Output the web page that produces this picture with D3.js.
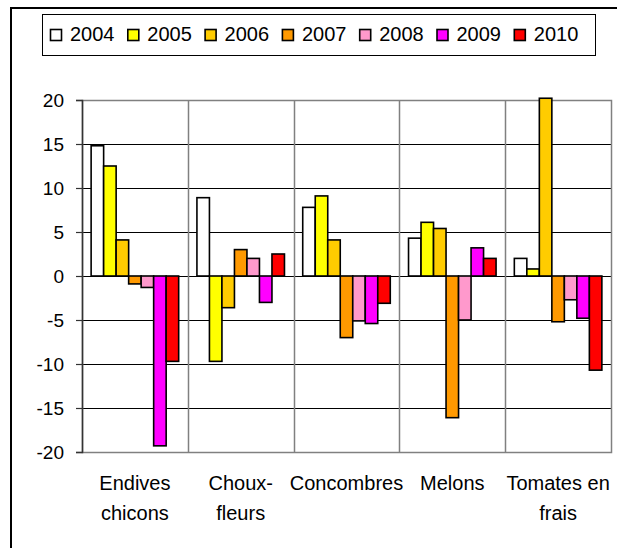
<!DOCTYPE html>
<html>
<head>
<meta charset="utf-8">
<script src="https://cdn.jsdelivr.net/npm/d3@7/dist/d3.min.js"></script>
<style>
  html, body { margin: 0; padding: 0; background: #fff; }
  svg { display: block; font-family: "Liberation Sans", Arial, sans-serif; }
</style>
</head>
<body>
<svg id="chart" width="617" height="548"></svg>
<script>
// Categories (each label split into its display lines)
const categories = ["Endives chicons", "Choux-fleurs", "Concombres", "Melons", "Tomates en frais"];
const categoryLines = [["Endives", "chicons"], ["Choux-", "fleurs"], ["Concombres"], ["Melons"], ["Tomates en", "frais"]];

// Series: one value per category, per year
const years = ["2004", "2005", "2006", "2007", "2008", "2009", "2010"];
const v2004 = [14.8, 8.9, 7.8, 4.3, 2.0];
const v2005 = [12.5, -9.7, 9.1, 6.1, 0.8];
const v2006 = [4.1, -3.6, 4.1, 5.4, 20.2];
const v2007 = [-0.9, 3.0, -7.0, -16.1, -5.2];
const v2008 = [-1.3, 2.0, -5.1, -5.0, -2.7];
const v2009 = [-19.3, -3.0, -5.4, 3.2, -4.8];
const v2010 = [-9.7, 2.5, -3.1, 2.0, -10.7];
const seriesValues = [v2004, v2005, v2006, v2007, v2008, v2009, v2010];
const colors = ["#FFFFFF", "#FFFF00", "#FFCC00", "#FF9900", "#FF99CC", "#FF00FF", "#FF0000"];

// Value axis ticks
const yTicks = [-20, -15, -10, -5, 0, 5, 10, 15, 20];

const svg = d3.select("#chart");

// Outer chart frame (runs off the right and bottom edges)
svg.append("rect")
  .attr("x", 11).attr("y", 8)
  .attr("width", 640).attr("height", 580)
  .attr("fill", "none").attr("stroke", "#000").attr("stroke-width", 2);

const plot = { left: 82, right: 611, top: 100, bottom: 452 };

const x0 = d3.scaleBand().domain(categories).range([plot.left, plot.right]).padding(0);
const x1 = d3.scaleBand().domain(years).range([0, x0.bandwidth()]).paddingInner(0).paddingOuter(0.73);
const y = d3.scaleLinear().domain([-20, 20]).range([plot.bottom, plot.top]);

// Horizontal gridlines
svg.append("g").selectAll("line")
  .data(yTicks.filter(t => t !== 20 && t !== -20))
  .join("line")
  .attr("x1", plot.left).attr("x2", plot.right)
  .attr("y1", d => Math.round(y(d)) + 0.5).attr("y2", d => Math.round(y(d)) + 0.5)
  .attr("stroke", "#000").attr("stroke-width", 1);

// Vertical gridlines between categories and plot border
svg.append("g").selectAll("line")
  .data(categories.slice(1))
  .join("line")
  .attr("x1", d => Math.round(x0(d)) + 0.5).attr("x2", d => Math.round(x0(d)) + 0.5)
  .attr("y1", plot.top).attr("y2", plot.bottom)
  .attr("stroke", "#808080").attr("stroke-width", 1.5);

svg.append("rect")
  .attr("x", plot.left + 0.5).attr("y", plot.top + 0.5)
  .attr("width", plot.right - plot.left).attr("height", plot.bottom - plot.top)
  .attr("fill", "none").attr("stroke", "#808080").attr("stroke-width", 1.5);

// Bars
const groups = svg.append("g").selectAll("g")
  .data(categories)
  .join("g")
  .attr("transform", d => `translate(${x0(d)},0)`);

groups.selectAll("rect")
  .data((c, ci) => years.map((yr, si) => ({ year: yr, value: seriesValues[si][ci], color: colors[si] })))
  .join("rect")
  .attr("x", d => x1(d.year))
  .attr("width", x1.bandwidth())
  .attr("y", d => y(Math.max(0, d.value)))
  .attr("height", d => Math.abs(y(d.value) - y(0)))
  .attr("fill", d => d.color)
  .attr("stroke", "#000")
  .attr("stroke-width", 1.6);

// Value axis (plain hyphen for negatives)
const yAxis = svg.append("g")
  .attr("transform", `translate(${plot.left},0)`)
  .call(d3.axisLeft(y).tickValues(yTicks).tickSize(6).tickPadding(12).tickFormat(d => String(d)));
yAxis.select(".domain").attr("stroke", "#333").attr("stroke-width", 1.5);
yAxis.selectAll(".tick line").attr("stroke", "#333").attr("stroke-width", 1.2);
yAxis.selectAll(".tick text")
  .attr("font-size", 19)
  .attr("font-family", "Liberation Sans, Arial, sans-serif")
  .attr("fill", "#000");

// Category labels
const catLabels = svg.append("g").selectAll("text")
  .data(categories)
  .join("text")
  .attr("text-anchor", "middle")
  .attr("font-size", 20)
  .attr("fill", "#000");
catLabels.each(function (d, i) {
  const t = d3.select(this);
  categoryLines[i].forEach((line, li) => {
    t.append("tspan")
      .attr("x", x0(d) + x0.bandwidth() / 2)
      .attr("y", 490 + li * 30)
      .text(line);
  });
});

// Legend
const legend = svg.append("g");
legend.append("rect")
  .attr("x", 42.5).attr("y", 14.5)
  .attr("width", 553).attr("height", 41)
  .attr("fill", "#fff").attr("stroke", "#000").attr("stroke-width", 1);

const items = legend.selectAll("g")
  .data(years)
  .join("g")
  .attr("transform", (d, i) => `translate(${50 + i * 77.3},0)`);
items.append("rect")
  .attr("x", 0.5).attr("y", 29.5)
  .attr("width", 11).attr("height", 11)
  .attr("fill", (d, i) => colors[i])
  .attr("stroke", "#000").attr("stroke-width", 1.6);
items.append("text")
  .attr("x", 20).attr("y", 41)
  .attr("font-size", 20)
  .attr("fill", "#000")
  .text(d => d);
</script>
</body>
</html>
